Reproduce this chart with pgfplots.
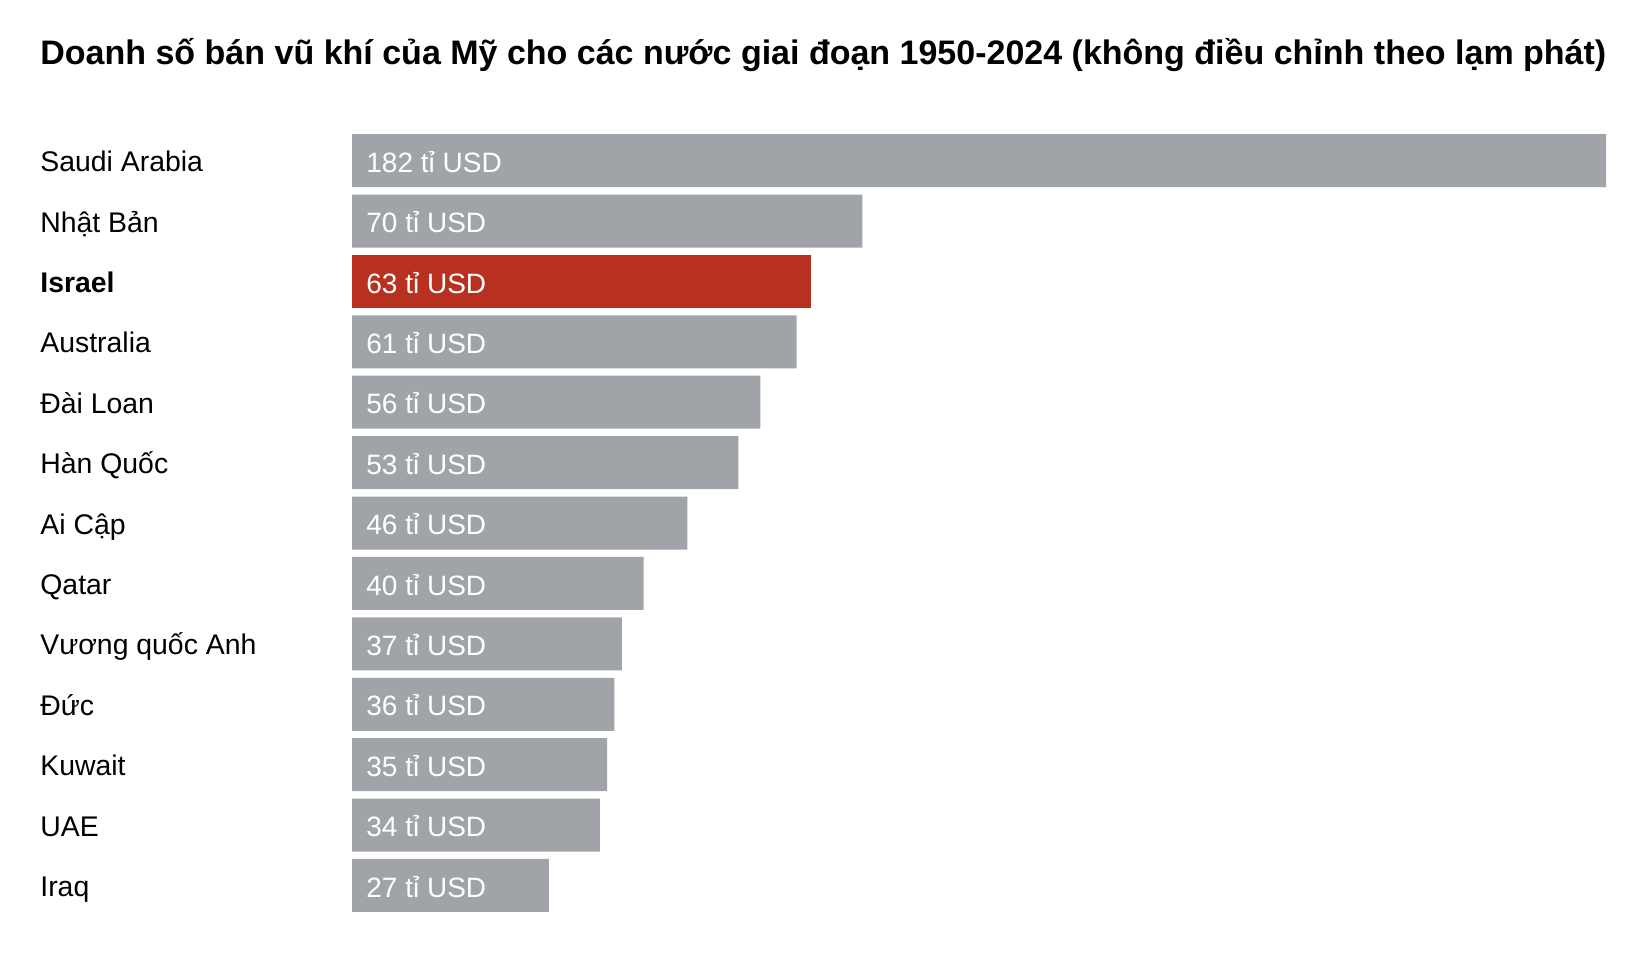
\documentclass[border=0pt]{standalone}
\usepackage{pgfplots}
\pgfplotsset{compat=1.18}
\usepackage{pgfplotstable}
\usepackage{fontspec}
\setmainfont{Liberation Sans}
\definecolor{bargray}{HTML}{A0A4A8}
\definecolor{barred}{HTML}{B83120}

% pos 12 = top row (Saudi Arabia), pos 0 = bottom row (Iraq)
\pgfplotstableread{
pos value
12 182
11 70
9 61
8 56
7 53
6 46
5 40
4 37
3 36
2 35
1 34
0 27
}\graydata
\pgfplotstableread{
pos value
10 63
}\reddata

\begin{document}
\begin{tikzpicture}
\path[use as bounding box, fill=white] (0,0) rectangle (824.5pt,477pt);
\node[anchor=base west, inner sep=0pt, font=\fontsize{17}{20}\selectfont\bfseries]
  at (20pt,444.75pt) {Doanh số bán vũ khí của Mỹ cho các nước giai đoạn 1950-2024 (không điều chỉnh theo lạm phát)};
\begin{axis}[
  at={(176pt,19.15pt)}, anchor=south west,
  scale only axis, width=627pt, height=392.65pt,
  xmin=0, xmax=172, ymin=-0.5, ymax=12.5,
  axis line style={draw=none}, tick style={draw=none},
  xtick=\empty,
  ytick={0,...,12},
  yticklabels={Iraq, UAE, Kuwait, Đức, Vương quốc Anh, Qatar, Ai Cập, Hàn Quốc, Đài Loan, Australia, \textbf{Israel}, Nhật Bản, Saudi Arabia},
  yticklabel style={anchor=base west, inner sep=0pt, xshift=-156pt, yshift=-5.5pt, font=\fontsize{14.2}{16}\selectfont},
  bar width=26.5pt,
  nodes near coords style={anchor=base west, inner sep=0pt, xshift=7pt, yshift=-5.8pt,
    text=white, font=\fontsize{14}{16}\selectfont},
]
\addplot[xbar, fill=bargray, draw=none] table[x=value, y=pos] {\graydata};
\addplot[xbar, fill=barred, draw=none] table[x=value, y=pos] {\reddata};
% value labels, set at the start of each bar
\addplot[draw=none, point meta=explicit symbolic, nodes near coords={\pgfplotspointmeta{} tỉ USD}]
  table[x expr=0, y=pos, meta=value] {\graydata};
\addplot[draw=none, point meta=explicit symbolic, nodes near coords={\pgfplotspointmeta{} tỉ USD}]
  table[x expr=0, y=pos, meta=value] {\reddata};
\end{axis}
\end{tikzpicture}
\end{document}
